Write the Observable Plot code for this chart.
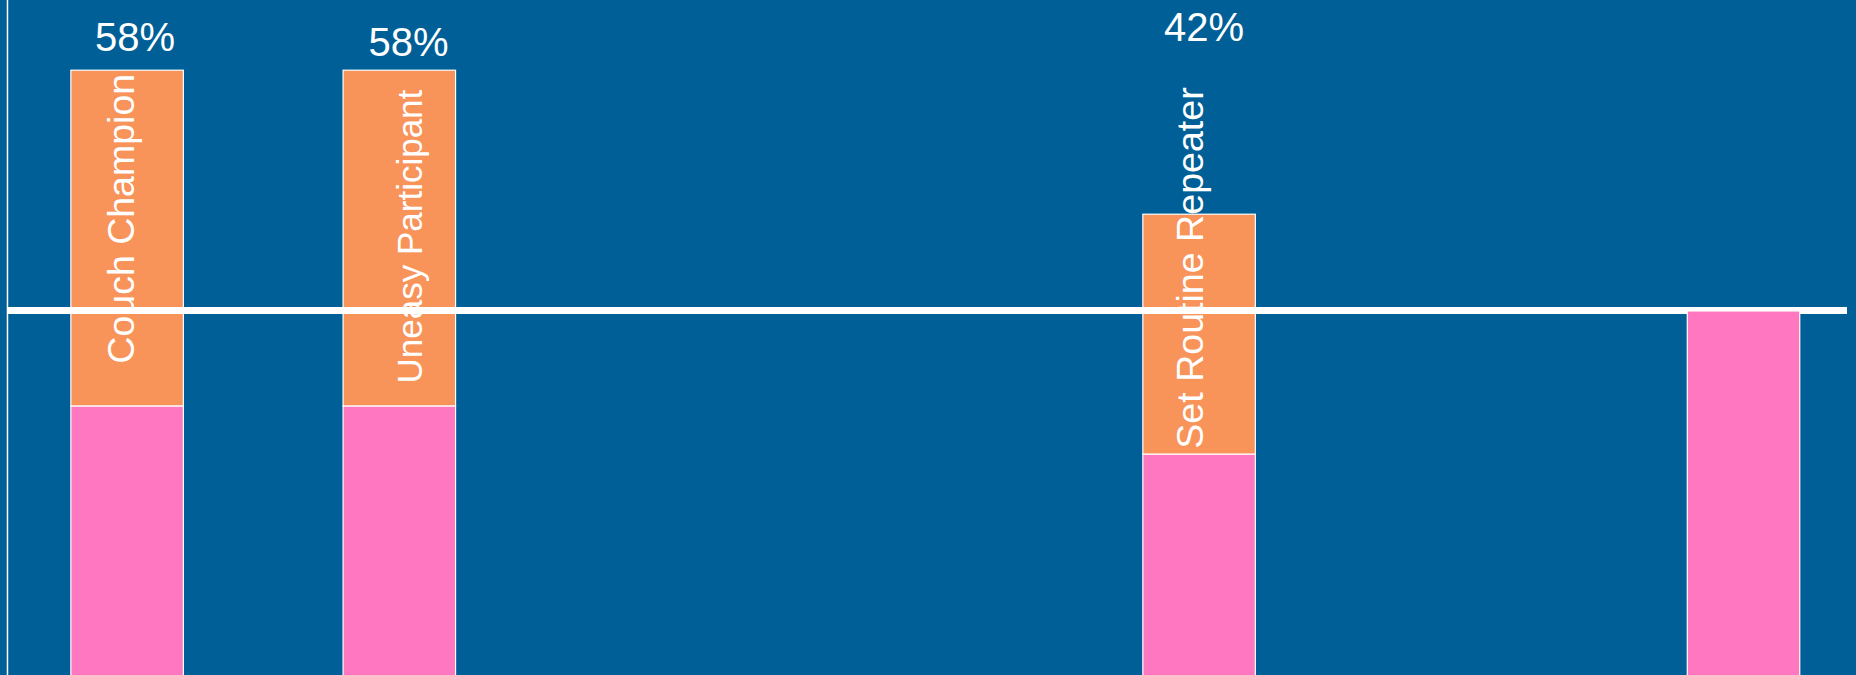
<!DOCTYPE html>
<html>
<head>
<meta charset="utf-8">
<script src="https://cdn.jsdelivr.net/npm/d3@7"></script>
<script src="https://cdn.jsdelivr.net/npm/@observablehq/plot@0.6"></script>
<style>
  html, body { margin: 0; padding: 0; background: #005f96; overflow: hidden; }
  #chart svg { display: block; }
</style>
</head>
<body>
<div id="chart"></div>
<script>
// ---- data ----
const categories = ["Couch Champion", "Uneasy Participant", "Set Routine Repeater", "(unlabelled)"];
const barStart = [0.63, 3.05, 10.16, 15.0];           // left edge of each bar, x units
const segments = ["lower", "upper"];
const lowerValues = [61.8, 61.8, 51.1, 82.9];
const upperValues = [74.6, 74.6, 53.3, 0];
const percentLabels = ["58%", "58%", "42%"];
const percentLabelX = [1.196, 3.627, 10.699];
const percentLabelY = [140.7, 139.6, 142.9];
const nameLabelX = [1.191, 3.747, 10.686];
const nameLabelY = [71.3, 66.9, 52.4];
const thresholdY = 83.1;
const axisX = 0.062;
const ruleEndX = 16.42;

// ---- styles ----
const nameFontSize = {"Couch Champion": 37.5, "Uneasy Participant": 35, "Set Routine Repeater": 37.6};
const font = "'Liberation Sans', Arial, Helvetica, sans-serif";
const barWidth = 1;

// ---- build table ----
const rows = categories.flatMap((c, i) => {
  const lo = lowerValues[i], up = upperValues[i];
  return [
    {category: c, start: barStart[i], segment: "lower", y1: 0, y2: lo},
    {category: c, start: barStart[i], segment: "upper", y1: lo, y2: lo + up}
  ];
}).filter(d => d.y2 > d.y1);

const nameRows = categories.slice(0, 3).map((c, i) => ({name: c, x: nameLabelX[i], y: nameLabelY[i]}));

const last = categories[categories.length - 1];
const barOpts = (filter) => ({
  filter,
  x1: "start",
  x2: d => d.start + barWidth,
  y1: "y1",
  y2: "y2",
  fill: "segment",
  stroke: "white",
  strokeWidth: 1.2,
  clip: true
});

const nameMark = (name) => Plot.text(nameRows, {
  filter: d => d.name === name,
  x: "x",
  y: "y",
  text: "name",
  rotate: -90,
  fill: "white",
  fontSize: nameFontSize[name],
  fontFamily: font,
  textAnchor: "start",
  lineAnchor: "bottom"
});

const chart = Plot.plot({
  width: 1856,
  height: 675,
  margin: 0,
  x: {type: "linear", domain: [0, 16.5], axis: null},
  y: {domain: [2, 152], axis: null},
  color: {domain: segments, range: ["#ff77c0", "#f8935a"]},
  style: {background: "#005f96", fontFamily: font},
  marks: [
    Plot.rect(rows, barOpts(d => d.category !== last)),
    Plot.ruleX([axisX], {stroke: "white", strokeWidth: 1.5}),
    Plot.ruleY([thresholdY], {x1: axisX, x2: ruleEndX, stroke: "white", strokeWidth: 7}),
    Plot.rect(rows, barOpts(d => d.category === last)),
    Plot.text(percentLabels, {
      x: (d, i) => percentLabelX[i],
      y: (d, i) => percentLabelY[i],
      text: d => d,
      fill: "white",
      fontSize: 40,
      fontFamily: font,
      textAnchor: "middle",
      lineAnchor: "bottom"
    }),
    ...categories.slice(0, 3).map(nameMark)
  ]
});

document.getElementById("chart").appendChild(chart);
</script>
</body>
</html>
